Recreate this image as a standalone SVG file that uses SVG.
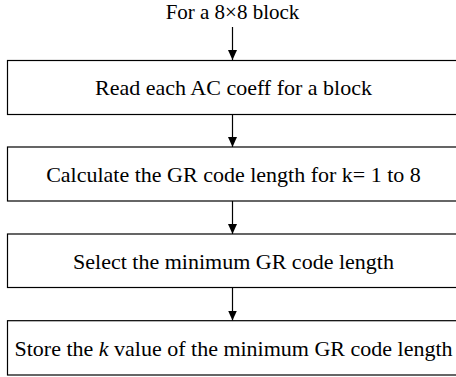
<svg xmlns="http://www.w3.org/2000/svg" width="456" height="377" viewBox="0 0 456 377">
<style>
.box{fill:#fff;stroke:#000;stroke-width:1.2}
.t{font-family:"Liberation Serif","Times New Roman",serif;font-size:22px;fill:#000;text-anchor:middle}
.c{stroke:#000;stroke-width:1.2;fill:none}
</style>
<defs>
<marker id="ah" markerWidth="10" markerHeight="9" refX="10" refY="4.5" orient="auto" markerUnits="userSpaceOnUse" viewBox="0 0 10 9">
<path d="M0,0 L10,4.5 L0,9 Z" fill="#000"/>
</marker>
</defs>
<g id="start"><text class="t" x="232.5" y="19" style="font-size:21px">For a 8×8 block</text></g>
<g id="n1"><rect class="box" x="7.5" y="60.5" width="460" height="54"/><text class="t" x="233.5" y="95">Read each AC coeff for a block</text></g>
<g id="n2"><rect class="box" x="7.5" y="147" width="460" height="54"/><text class="t" x="233.5" y="181.5">Calculate the GR code length for k= 1 to 8</text></g>
<g id="n3"><rect class="box" x="7.5" y="234" width="460" height="53.5"/><text class="t" x="233.5" y="268.5">Select the minimum GR code length</text></g>
<g id="n4"><rect class="box" x="7.5" y="320.7" width="460" height="54.3"/><text class="t" x="233.5" y="355.5">Store the <tspan font-style="italic">k</tspan> value of the minimum GR code length</text></g>
<g id="connectors">
<line class="c" x1="232.5" y1="27" x2="232.5" y2="60" marker-end="url(#ah)"/>
<line class="c" x1="232.5" y1="114.5" x2="232.5" y2="147" marker-end="url(#ah)"/>
<line class="c" x1="232.5" y1="201" x2="232.5" y2="234" marker-end="url(#ah)"/>
<line class="c" x1="232.5" y1="287.5" x2="232.5" y2="320.5" marker-end="url(#ah)"/>
</g>
</svg>
